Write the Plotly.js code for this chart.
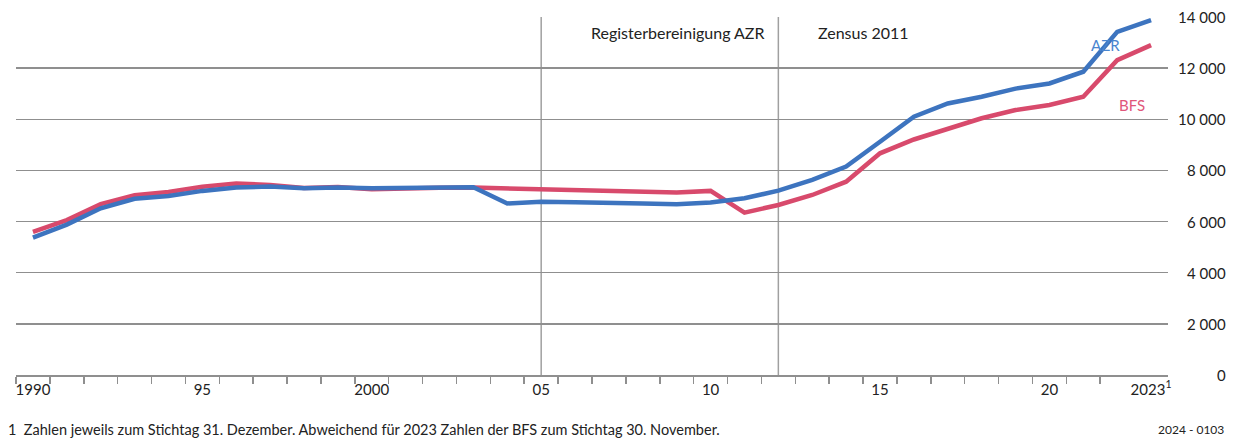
<!DOCTYPE html>
<html>
<head>
<meta charset="utf-8">
<script src="https://cdn.plot.ly/plotly-3.0.1.min.js"></script>
<style>html,body{margin:0;padding:0;background:#fff;}#chart{width:1238px;height:439px;}</style>
</head>
<body>
<div id="chart"></div>
<script>
const years = [1990,1991,1992,1993,1994,1995,1996,1997,1998,1999,2000,2001,2002,2003,2004,2005,2006,2007,2008,2009,2010,2011,2012,2013,2014,2015,2016,2017,2018,2019,2020,2021,2022,2023];
const azr = [5370,5880,6520,6890,7000,7200,7330,7370,7300,7330,7300,7320,7340,7340,6710,6780,6760,6750,6710,6680,6750,6910,7210,7630,8150,9120,10100,10620,10880,11200,11400,11860,13420,13880];
const bfs = [5600,6060,6680,7030,7160,7360,7490,7430,7310,7350,7260,7300,7320,7330,7300,7280,7260,7240,7170,7140,7200,6350,6650,7040,7560,8670,9210,9640,10040,10360,10560,10880,12310,12900];
const xTickVals = [1990,1995,2000,2005,2010,2015,2020,2023];
const xTickText = ['1990','95','2000','05','10','15','20','2023<sup style="font-size:9px">1</sup>'];
const yTickVals = [0,2000,4000,6000,8000,10000,12000,14000];
const yTickText = ['0','2 000','4 000','6 000','8 000','10 000','12 000','14 000'];
const markerYears = [2005, 2012];
const markerLabels = ['Registerbereinigung AZR','Zensus 2011'];
const footnote = '1  Zahlen jeweils zum Stichtag 31. Dezember. Abweichend für 2023 Zahlen der BFS zum Stichtag 30. November.';
const code = '2024 - 0103';

const FONT = 'Lato, "Open Sans", sans-serif';
const GRID = '#8f8f8f';
const BLUE = '#3d74bf';
const RED = '#d84a6c';

const boundaries = years.slice(0, -1).map(y => y - 0.5);

const traces = [
  {x: years, y: bfs, type: 'scatter', mode: 'lines', name: 'BFS', line: {color: RED, width: 4.5}},
  {x: years, y: azr, type: 'scatter', mode: 'lines', name: 'AZR', line: {color: BLUE, width: 4.5}}
];

const annotations = yTickVals.map((v, i) => ({
  xref: 'paper', x: 1, xshift: 60, xanchor: 'right',
  yref: 'y', y: v, yanchor: 'middle',
  text: yTickText[i], showarrow: false,
  font: {family: FONT, size: 15, color: '#222'}
}));
annotations.push(
  {xref: 'x', x: markerYears[1], xshift: -11, xanchor: 'right', yref: 'y', y: 13400, yanchor: 'middle',
   text: markerLabels[0], showarrow: false, font: {family: FONT, size: 16, color: '#222'}},
  {xref: 'x', x: markerYears[1], xshift: 38, xanchor: 'left', yref: 'y', y: 13400, yanchor: 'middle',
   text: markerLabels[1], showarrow: false, font: {family: FONT, size: 16, color: '#222'}},
  {xref: 'x', x: 2021.66, yref: 'y', y: 12900, text: 'AZR', showarrow: false,
   font: {family: FONT, size: 15, color: '#4a85cf'}},
  {xref: 'x', x: 2022.43, yref: 'y', y: 10550, text: 'BFS', showarrow: false,
   font: {family: FONT, size: 15, color: '#e0567a'}},
  {xref: 'paper', x: 0, xshift: -10, xanchor: 'left', yref: 'paper', y: -0.1536, yanchor: 'middle',
   text: footnote, showarrow: false, font: {family: FONT, size: 14.5, color: '#222'}},
  {xref: 'paper', x: 1, xshift: 58, xanchor: 'right', yref: 'paper', y: -0.1536, yanchor: 'middle',
   text: code, showarrow: false, font: {family: FONT, size: 12, color: '#222'}}
);

const shapes = markerYears.map(yr => ({
  type: 'line', xref: 'x', x0: yr, x1: yr, yref: 'y', y0: 0, y1: 14000,
  line: {color: '#a0a0a0', width: 1.5}, layer: 'below'
}));

const layout = {
  width: 1238, height: 439,
  margin: {l: 16, r: 70, t: 17, b: 64},
  paper_bgcolor: '#fff', plot_bgcolor: '#fff',
  showlegend: false,
  font: {family: FONT, color: '#222'},
  xaxis: {
    range: [1989.5, 2023.5], tickmode: 'array', tickvals: xTickVals, ticktext: xTickText,
    ticks: '', showline: true, linecolor: GRID, linewidth: 1.5, showgrid: false, zeroline: false,
    tickfont: {family: FONT, size: 15, color: '#222'},
    minor: {tickmode: 'array', tickvals: boundaries, ticks: 'outside', ticklen: 7, tickcolor: GRID, tickwidth: 1.5, showgrid: false},
    fixedrange: true
  },
  yaxis: {
    range: [0, 14000], tickmode: 'array', tickvals: yTickVals, showticklabels: false,
    showgrid: true, gridcolor: GRID, gridwidth: 1.3, zeroline: false, showline: false, ticks: '',
    fixedrange: true
  },
  shapes: shapes,
  annotations: annotations
};

Plotly.newPlot('chart', traces, layout, {displayModeBar: false, staticPlot: true});
</script>
</body>
</html>
